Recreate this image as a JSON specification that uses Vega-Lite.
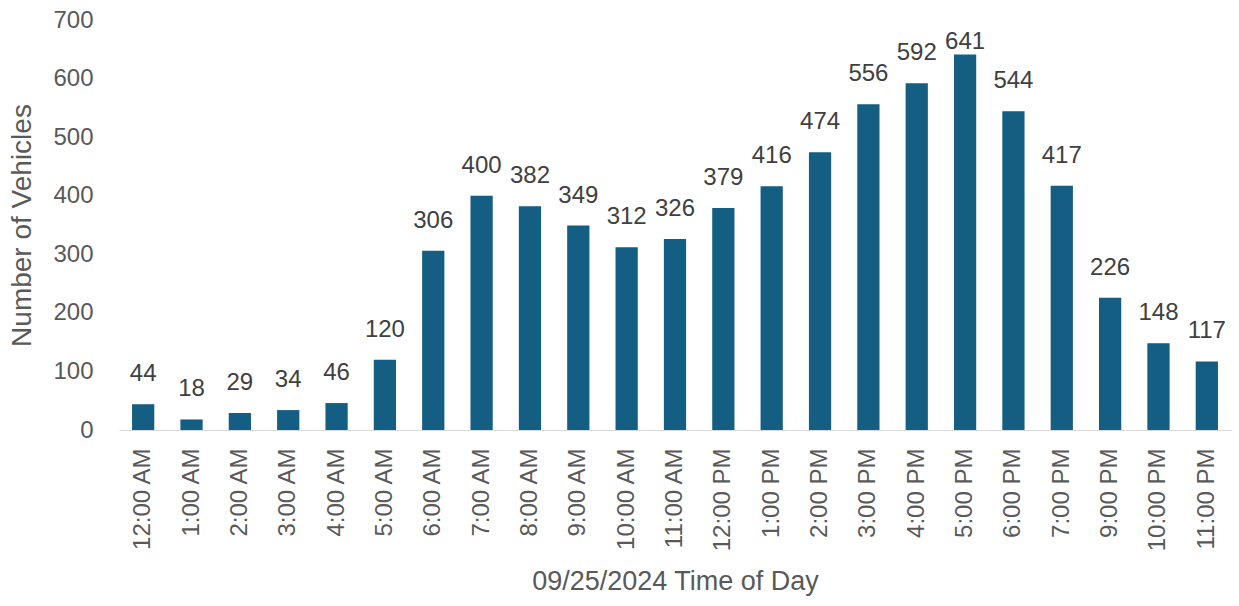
{
  "$schema": "https://vega.github.io/schema/vega-lite/v6.json",
  "autosize": {"type": "none"},
  "width": 1112,
  "height": 410,
  "padding": {"left": 119, "top": 20, "right": 8, "bottom": 176},
  "background": "white",
  "config": {"view": {"stroke": null}, "font": "Liberation Sans"},
  "data": {"values": [
    {"time": "12:00 AM", "count": 44},
    {"time": "1:00 AM", "count": 18},
    {"time": "2:00 AM", "count": 29},
    {"time": "3:00 AM", "count": 34},
    {"time": "4:00 AM", "count": 46},
    {"time": "5:00 AM", "count": 120},
    {"time": "6:00 AM", "count": 306},
    {"time": "7:00 AM", "count": 400},
    {"time": "8:00 AM", "count": 382},
    {"time": "9:00 AM", "count": 349},
    {"time": "10:00 AM", "count": 312},
    {"time": "11:00 AM", "count": 326},
    {"time": "12:00 PM", "count": 379},
    {"time": "1:00 PM", "count": 416},
    {"time": "2:00 PM", "count": 474},
    {"time": "3:00 PM", "count": 556},
    {"time": "4:00 PM", "count": 592},
    {"time": "5:00 PM", "count": 641},
    {"time": "6:00 PM", "count": 544},
    {"time": "7:00 PM", "count": 417},
    {"time": "9:00 PM", "count": 226},
    {"time": "10:00 PM", "count": 148},
    {"time": "11:00 PM", "count": 117}
  ]},
  "encoding": {
    "x": {
      "field": "time", "type": "nominal", "sort": null,
      "scale": {"paddingInner": 0.54, "paddingOuter": 0.27},
      "axis": {
        "title": "09/25/2024 Time of Day",
        "titleFontSize": 27, "titleFontWeight": "normal", "titleColor": "#595959", "titlePadding": 18,
        "labelAngle": -90, "labelFontSize": 24, "labelColor": "#595959", "labelPadding": 18,
        "ticks": false, "domainColor": "#d9d9d9", "domainWidth": 1
      }
    },
    "y": {
      "field": "count", "type": "quantitative",
      "scale": {"domain": [0, 700]},
      "axis": {
        "title": "Number of Vehicles", "values": [0,100,200,300,400,500,600,700],
        "titleFontSize": 28, "titleFontWeight": "normal", "titleColor": "#595959", "titlePadding": 16,
        "labelFontSize": 24, "labelColor": "#595959", "labelPadding": 26,
        "ticks": false, "domain": false, "grid": false
      }
    }
  },
  "layer": [
    {"mark": {"type": "bar", "color": "#135e82"}},
    {"transform": [{"filter": "datum.count < 600"}],
     "mark": {"type": "text", "dy": -30, "fontSize": 24, "color": "#404040"},
     "encoding": {"text": {"field": "count", "type": "quantitative"}}},
    {"transform": [{"filter": "datum.count >= 600"}],
     "mark": {"type": "text", "dy": -13, "fontSize": 24, "color": "#404040"},
     "encoding": {"text": {"field": "count", "type": "quantitative"}}}
  ]
}
